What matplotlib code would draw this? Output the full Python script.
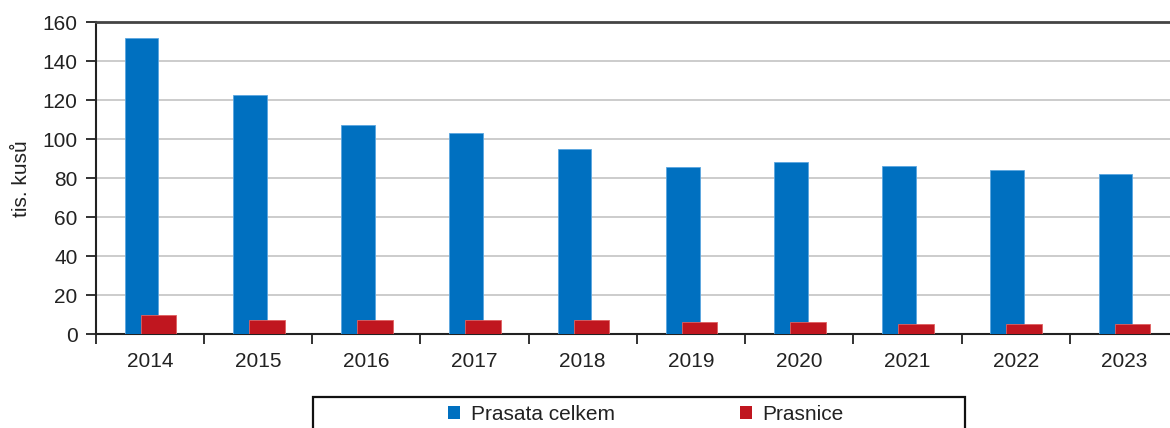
import matplotlib
matplotlib.use("Agg")
import matplotlib.pyplot as plt
from matplotlib.patches import Patch, Rectangle
import numpy as np

years = ["2014", "2015", "2016", "2017", "2018", "2019", "2020", "2021", "2022", "2023"]
prasata_celkem = [152.2, 122.6, 107.2, 103.1, 94.9, 85.6, 88.5, 86.5, 84.4, 82.4]
prasnice = [9.7, 7.5, 7.5, 7.5, 7.5, 6.5, 6.5, 5.4, 5.4, 5.4]
series_names = ["Prasata celkem", "Prasnice"]
y_ticks = [0, 20, 40, 60, 80, 100, 120, 140, 160]
y_label = "tis. kusů"

blue = "#0070c0"
red = "#c0161f"
txt = "#222222"

plt.rcParams["font.family"] = ["Liberation Sans", "DejaVu Sans"]
FS = 15

fig = plt.figure(figsize=(11.7, 4.28), dpi=100)
ax = fig.add_axes([95.7 / 1170, (428 - 334.3) / 428, (1178 - 95.7) / 1170, 312 / 428])

x = np.arange(len(years))
ax.bar(x - 0.077, prasata_celkem, width=0.312, color=blue, edgecolor="#5aa6e0", linewidth=0.6, zorder=3)
ax.bar(x + 0.08, prasnice, width=0.33, color=red, edgecolor="#e06060", linewidth=0.6, zorder=4)

ax.set_xlim(-0.5, len(years) - 0.5)
ax.set_ylim(0, 160)
ax.set_yticks(y_ticks)
ax.set_yticklabels([str(v) for v in y_ticks], fontsize=FS, color=txt)
ax.yaxis.grid(True, color="#c4c4c4", linewidth=1.2, zorder=0)
ax.set_axisbelow(True)

ax.set_xticks(np.arange(len(years) + 1) - 0.5)
ax.set_xticklabels([""] * (len(years) + 1))
ax.set_xticks(x, years, minor=True)
ax.tick_params(axis="x", which="minor", length=0, labelsize=FS, labelcolor=txt, pad=13)
ax.tick_params(axis="x", which="major", length=7, width=1.3, color="#222222", direction="out")
ax.tick_params(axis="y", length=7, width=1.3, color="#222222", direction="out", pad=6)

for s in ["left", "bottom"]:
    ax.spines[s].set_color("#222222")
    ax.spines[s].set_linewidth(1.5)
ax.spines["top"].set_color("#444444")
ax.spines["top"].set_linewidth(2)
ax.spines["right"].set_visible(False)

ax.set_ylabel(y_label, fontsize=FS, color=txt, labelpad=8)

# legend box
rect = Rectangle((313 / 1170, -0.02), (965 - 313) / 1170, (428 - 397) / 428 + 0.02,
                 transform=fig.transFigure, fill=False, edgecolor="#111111", linewidth=1.6)
fig.patches.append(rect)
handles = [Patch(facecolor=blue), Patch(facecolor=red)]
fig.legend(handles, series_names, loc="center", bbox_to_anchor=(646 / 1170, (428 - 414) / 428),
           ncol=2, frameon=False, fontsize=FS, handlelength=0.58, handleheight=0.58,
           handletextpad=0.5, columnspacing=6.0, labelcolor=txt, borderpad=0)

fig.savefig("out.png", dpi=100)
